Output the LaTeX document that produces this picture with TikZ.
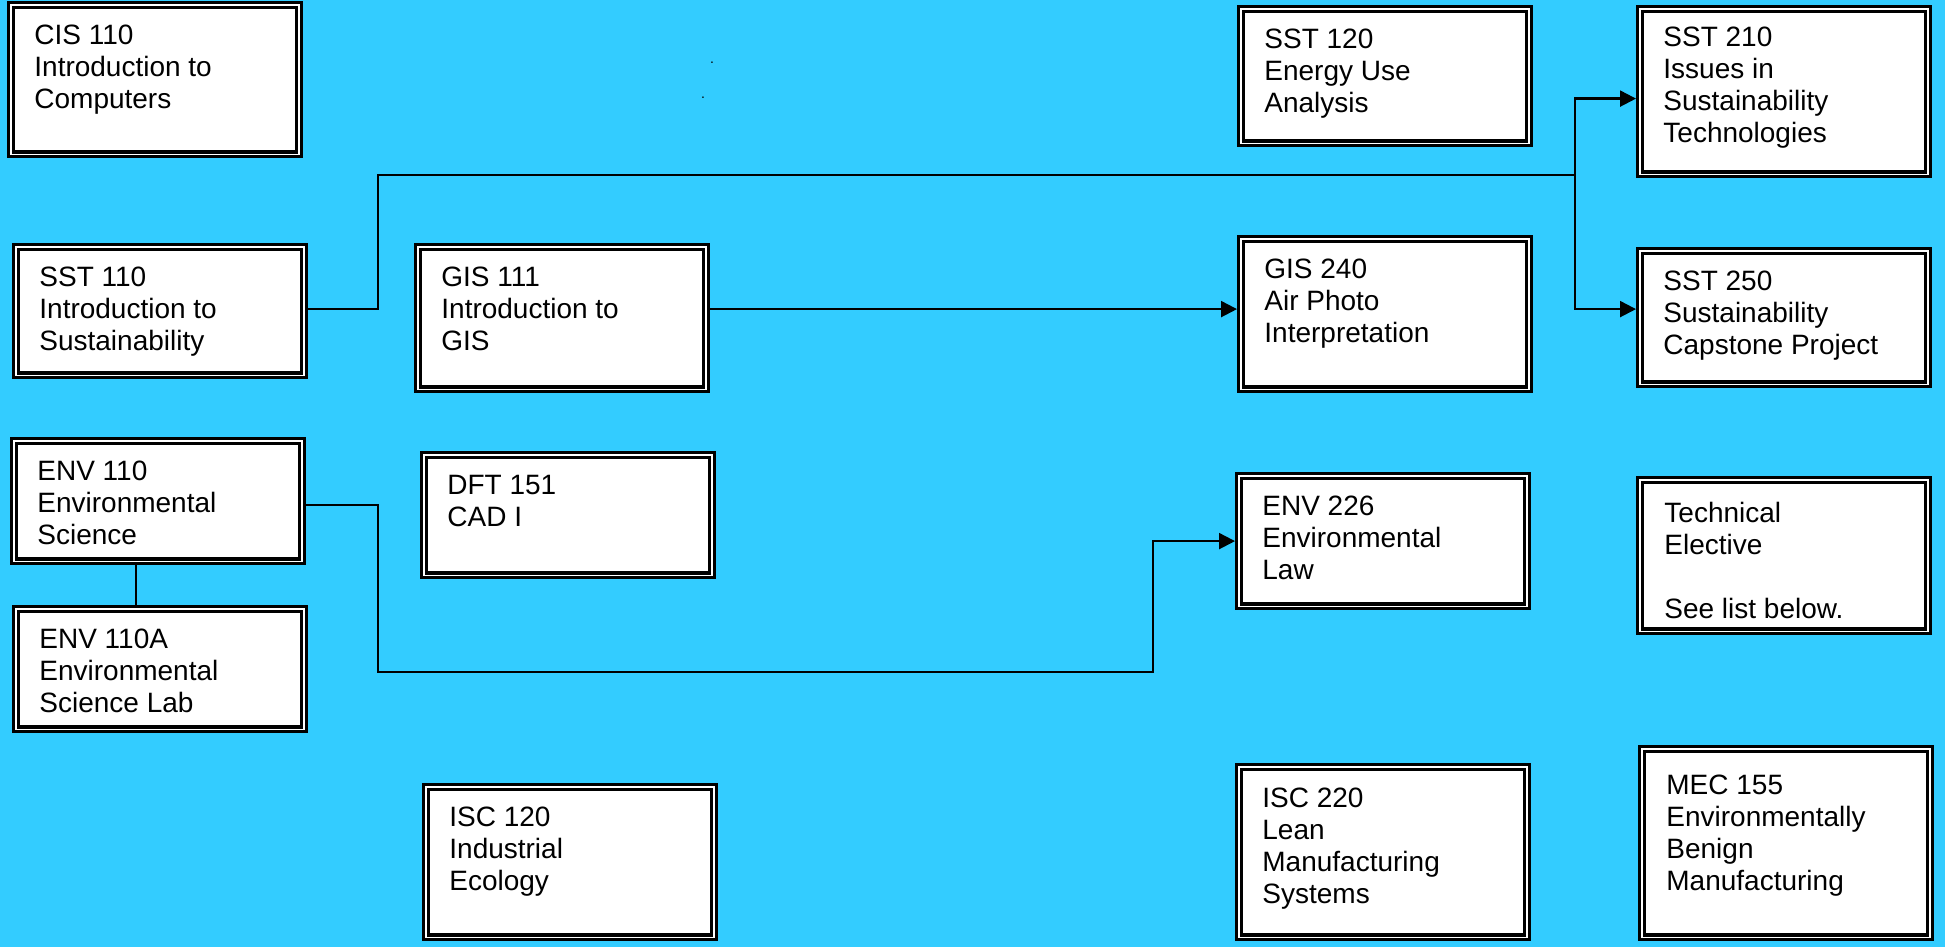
\documentclass[tikz,border=0pt]{standalone}
\usepackage{fontspec}
\setmainfont{Liberation Sans}
\usetikzlibrary{positioning,arrows.meta}
\definecolor{skyback}{RGB}{51,204,255}
\tikzset{
  course/.style={rectangle, draw=black, line width=1.6pt, double=white, double distance=0.7pt, fill=white, anchor=north west, inner sep=0pt, outer sep=1.95pt, minimum width=144pt},
  coursetext/.style={anchor=north west, align=left, inner sep=0pt, font=\fontsize{14}{16}\selectfont},
  speck/.style={inner sep=0pt, font=\fontsize{7}{8}\selectfont}
}
\begin{document}
\begin{tikzpicture}[
    x=0.5pt, y=-0.5pt,
    conn/.style={line width=1.1pt},
    arrow/.style={line width=1.1pt, -{Triangle[length=8pt, width=8pt]}}
  ]

  \useasboundingbox (0,0) rectangle (1945,947);
  \fill[skyback] (0,0) rectangle (1945,947);

  % first column
  \node[course, minimum height=74.7pt] (cis110) at (7,1) {};
  \node[course, minimum height=64.2pt] (sst110) at (12,243) {};
  \node[course, minimum height=60.2pt] (env110) at (10,437) {};
  \node[course, minimum height=60.2pt] (env110a) at (12,605) {};

  % second column
  \node[course, minimum height=71.2pt] (gis111) at (414,243) {};
  \node[course, minimum height=60.2pt] (dft151) at (420,451) {};
  \node[course, minimum height=75.2pt] (isc120) at (422,783) {};

  % third column
  \node[course, minimum height=67.2pt] (sst120) at (1237,5) {};
  \node[course, minimum height=75.2pt] (gis240) at (1237,235) {};
  \node[course, minimum height=65.2pt] (env226) at (1235,472) {};
  \node[course, minimum height=85.2pt] (isc220) at (1235,763) {};

  % fourth column
  \node[course, minimum height=82.7pt] (sst210) at (1636,5) {};
  \node[course, minimum height=66.7pt] (sst250) at (1636,247) {};
  \node[course, minimum height=75.7pt] (techelec) at (1636,476) {};
  \node[course, minimum height=94.2pt] (mec155) at (1638,745) {};

  \node[coursetext] (cis110txt) at ([shift={(13.5pt,-12pt)}]cis110.north west) {CIS 110\\Introduction to\\Computers};
  \node[coursetext] (sst110txt) at ([shift={(13.5pt,-12pt)}]sst110.north west) {SST 110\\Introduction to\\Sustainability};
  \node[coursetext] (env110txt) at ([shift={(13.5pt,-12pt)}]env110.north west) {ENV 110\\Environmental\\Science};
  \node[coursetext] (env110atxt) at ([shift={(13.5pt,-12pt)}]env110a.north west) {ENV 110A\\Environmental\\Science Lab};
  \node[coursetext] (gis111txt) at ([shift={(13.5pt,-12pt)}]gis111.north west) {GIS 111\\Introduction to\\GIS};
  \node[coursetext] (dft151txt) at ([shift={(13.5pt,-12pt)}]dft151.north west) {DFT 151\\CAD I};
  \node[coursetext] (isc120txt) at ([shift={(13.5pt,-12pt)}]isc120.north west) {ISC 120\\Industrial\\Ecology};
  \node[coursetext] (sst120txt) at ([shift={(13.5pt,-12pt)}]sst120.north west) {SST 120\\Energy Use\\Analysis};
  \node[coursetext] (gis240txt) at ([shift={(13.5pt,-12pt)}]gis240.north west) {GIS 240\\Air Photo\\Interpretation};
  \node[coursetext] (env226txt) at ([shift={(13.5pt,-12pt)}]env226.north west) {ENV 226\\Environmental\\Law};
  \node[coursetext] (isc220txt) at ([shift={(13.5pt,-12.5pt)}]isc220.north west) {ISC 220\\Lean\\Manufacturing\\Systems};
  \node[coursetext] (sst210txt) at ([shift={(13.5pt,-11pt)}]sst210.north west) {SST 210\\Issues in\\Sustainability\\Technologies};
  \node[coursetext] (sst250txt) at ([shift={(13.5pt,-12pt)}]sst250.north west) {SST 250\\Sustainability\\Capstone Project};
  \node[coursetext] (techelectxt) at ([shift={(14pt,-13pt)}]techelec.north west) {Technical\\Elective\\[16pt]See list below.};
  \node[coursetext] (mec155txt) at ([shift={(14pt,-15pt)}]mec155.north west) {MEC 155\\Environmentally\\Benign\\Manufacturing};

  \node[speck] (speckA) at (712,63) {.};
  \node[speck] (speckB) at (703,98) {.};

  \coordinate (bend1) at (378,175);
  \coordinate (split) at (1575,175);
  \coordinate (low1) at (378,672);
  \coordinate (low2) at (1153,672);
  \coordinate (labtop) at ([xshift=-11pt]env110.south);

  \draw[conn] ([yshift=1pt]sst110.east) -| (bend1) -- (split);
  \draw[arrow] (split) |- ([yshift=-3.5pt]sst210.west);
  \draw[arrow] (split) |- ([yshift=4.25pt]sst250.west);
  \draw[arrow] ([yshift=4.5pt]gis111.east) -- ([yshift=2.5pt]gis240.west);
  \draw[arrow] ([yshift=-2pt]env110.east) -| (low1) -- (low2) |- (env226.west);
  \draw[conn] (labtop) -- (labtop |- env110a.north);

\end{tikzpicture}
\end{document}
